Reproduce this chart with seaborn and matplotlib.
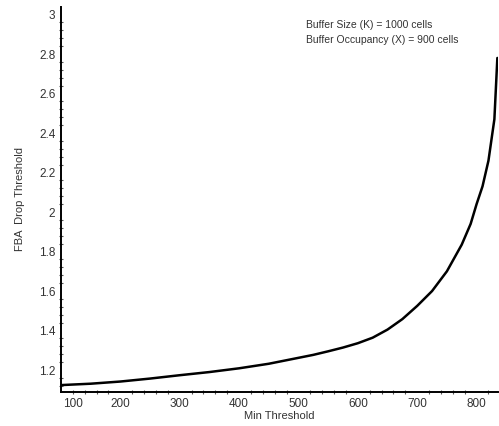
"""FBA drop threshold vs min threshold, Maple-style line plot."""

import matplotlib.pyplot as plt
import matplotlib.transforms as mtransforms
import pandas as pd
import seaborn as sns
from matplotlib.ticker import FormatStrFormatter, MultipleLocator

min_threshold = [100, 150, 200, 250, 300, 350, 400, 450, 500, 525, 550, 575, 600, 625, 650, 675,
                 700, 725, 750, 775, 790, 800, 810, 820, 830, 835]
drop_threshold = [1.124, 1.131, 1.142, 1.157, 1.174, 1.19, 1.209, 1.232, 1.262, 1.277, 1.295, 1.314,
                  1.336, 1.364, 1.405, 1.458, 1.525, 1.60, 1.70, 1.835, 1.94, 2.04,
                  2.13, 2.26, 2.47, 2.78]
x_ticks = [100, 200, 300, 400, 500, 600, 700, 800]
y_ticks = [1.2, 1.4, 1.6, 1.8, 2.0, 2.2, 2.4, 2.6, 2.8, 3.0]
notes = ["Buffer Size (K) = 1000 cells", "Buffer Occupancy (X) = 900 cells"]

sns.set_theme(style="white")
plt.rcParams["font.family"] = ["Liberation Sans Narrow", "Liberation Sans", "DejaVu Sans"]
plt.rcParams["text.color"] = "#333333"

df = pd.DataFrame({"min": min_threshold, "fba": drop_threshold})

fig = plt.figure(figsize=(4.99, 4.26), dpi=100)
ax = fig.add_axes([0.1222, 0.0798, 0.8757, 0.9038])
sns.lineplot(data=df, x="min", y="fba", color="black", linewidth=1.8, ax=ax)

ax.set_xlim(100, 836)
ax.set_ylim(1.089, 3.038)
ax.set_xticks(x_ticks)
ax.set_yticks(y_ticks)
ax.xaxis.set_minor_locator(MultipleLocator(20))
ax.yaxis.set_minor_locator(MultipleLocator(0.04))
ax.yaxis.set_major_formatter(FormatStrFormatter("%g"))

for side in ("top", "right"):
    ax.spines[side].set_visible(False)
for side in ("left", "bottom"):
    ax.spines[side].set_color("black")
    ax.spines[side].set_linewidth(1.4)

ax.tick_params(which="major", direction="inout", length=6, width=1,
               color="black", labelsize=8.5, labelcolor="#333333", pad=1)
ax.tick_params(which="minor", direction="inout", length=3, width=0.8,
               color="#555555", bottom=True, left=True)

# first x label sits off the axis corner
first = ax.get_xticklabels()[0]
first.set_transform(first.get_transform() + mtransforms.ScaledTranslation(12 / 100, 0, fig.dpi_scale_trans))

ax.set_xlabel("Min Threshold", fontsize=8, color="#333333", labelpad=1)
ax.set_ylabel("FBA  Drop Threshold", fontsize=8, color="#333333", labelpad=10)

ax.text(0.56, 0.965, notes[0] + "\n" + notes[1], transform=ax.transAxes,
        fontsize=7.5, va="top", ha="left", color="#333333", linespacing=1.6)

fig.savefig("out.png", dpi=100)
